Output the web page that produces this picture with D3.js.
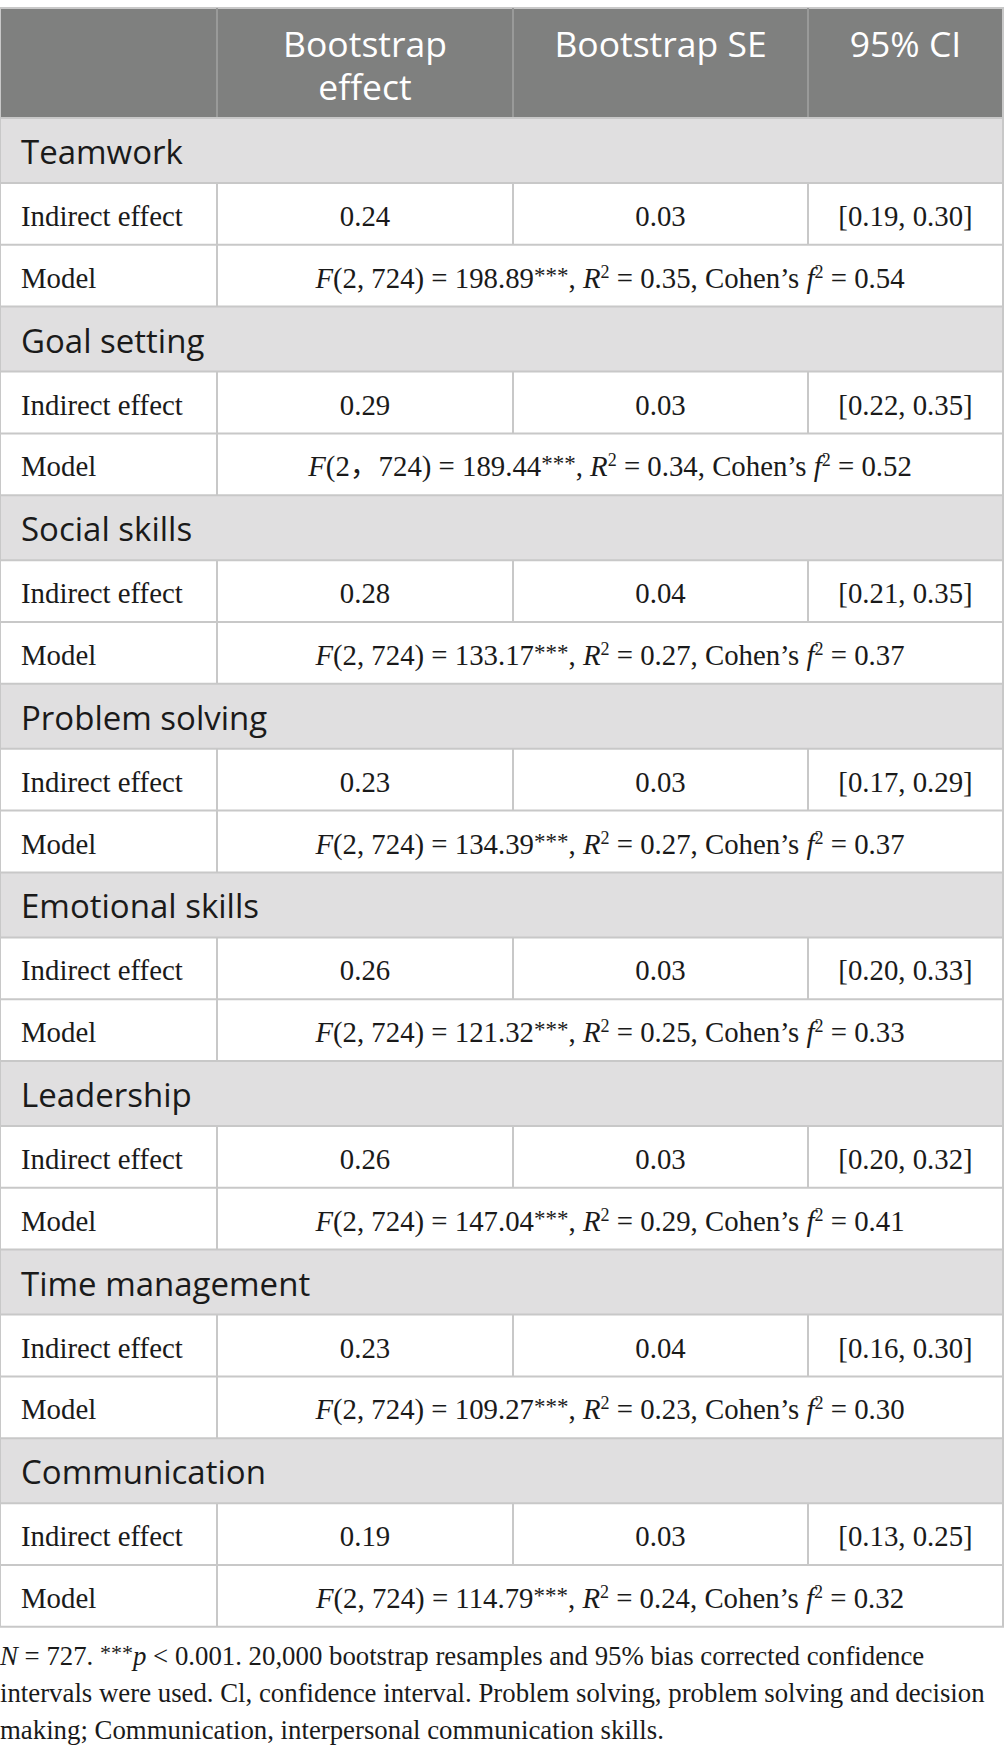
<!DOCTYPE html>
<html>
<head>
<meta charset="utf-8">
<script src="https://cdn.jsdelivr.net/npm/d3@7"></script>
<style>
  body { margin: 0; background: #fff; }
  svg { display: block; }
</style>
</head>
<body>
<svg id="chart" width="1005" height="1759"></svg>
<script>
'use strict';

// table content
const headers = [["Bootstrap", "effect"], ["Bootstrap SE"], ["95% CI"]];
const skills = ["Teamwork", "Goal setting", "Social skills", "Problem solving",
    "Emotional skills", "Leadership", "Time management", "Communication"];
const effects = ["0.24", "0.29", "0.28", "0.23", "0.26", "0.26", "0.23", "0.19"];
const ses = ["0.03", "0.03", "0.04", "0.03", "0.03", "0.03", "0.04", "0.03"];
const ciLow = ["0.19", "0.22", "0.21", "0.17", "0.20", "0.20", "0.16", "0.13"];
const ciHigh = ["0.30", "0.35", "0.35", "0.29", "0.33", "0.32", "0.30", "0.25"];
const dfText = ["2, 724", "2，724", "2, 724", "2, 724", "2, 724", "2, 724", "2, 724", "2, 724"];
const fValues = ["198.89", "189.44", "133.17", "134.39", "121.32", "147.04", "109.27", "114.79"];
const r2Values = ["0.35", "0.34", "0.27", "0.27", "0.25", "0.29", "0.23", "0.24"];
const f2Values = ["0.54", "0.52", "0.37", "0.37", "0.33", "0.41", "0.30", "0.32"];

const sans = "'Open Sans', 'Noto Sans', sans-serif";
const serif = "'Liberation Serif', 'Noto Sans CJK SC', serif";

var svg = d3.select("#chart");
var W = 1003;
var ink = "#1a1a1a";
var bodySize = 28.8;

// column edges
var x = d3.scaleOrdinal()
    .domain(["label", "effect", "se", "ci", "end"])
    .range([1, 217, 513, 808, W]);
var mid = function (a, b) { return (x(a) + x(b)) / 2; };

var headTop = 8, headBottom = 118;
var sectionH = 65, rowH = 61.8;
var groupH = sectionH + 2 * rowH;
var y = d3.scaleLinear().domain([0, skills.length]).range([headBottom, headBottom + skills.length * groupH]);

var lineColor = "#c8c8c8";

// header
svg.append("rect")
    .attr("x", x("label")).attr("y", headTop)
    .attr("width", W - x("label")).attr("height", headBottom - headTop)
    .attr("fill", "#7f807f");
svg.append("line")
    .attr("x1", 0).attr("x2", W + 1).attr("y1", headTop).attr("y2", headTop)
    .attr("stroke", lineColor).attr("stroke-width", 2);

["effect", "se", "ci"].forEach(function (c) {
    svg.append("line")
        .attr("x1", x(c)).attr("x2", x(c)).attr("y1", headTop).attr("y2", headBottom)
        .attr("stroke", "#999a99").attr("stroke-width", 2);
});

var headCenters = [mid("effect", "se"), mid("se", "ci"), mid("ci", "end")];
headers.forEach(function (lines, i) {
    lines.forEach(function (l, j) {
        svg.append("text")
            .attr("x", headCenters[i]).attr("y", 57 + j * 42.5)
            .attr("text-anchor", "middle")
            .attr("font-family", sans).attr("font-size", 35.5)
            .attr("fill", "#fff")
            .text(l);
    });
});

// groups
var groups = svg.append("g").selectAll("g")
    .data(skills)
    .enter().append("g")
    .attr("transform", function (d, i) { return "translate(0," + y(i) + ")"; });

groups.append("rect")
    .attr("x", x("label")).attr("y", 0)
    .attr("width", W - x("label")).attr("height", sectionH)
    .attr("fill", "#e0dfe0");

groups.append("text")
    .attr("x", 21).attr("y", 46)
    .attr("font-family", sans).attr("font-size", 33)
    .attr("fill", ink)
    .text(function (d) { return d; });

// indirect effect row
var r1 = sectionH;
function cell(sel, cx, anchor) {
    return sel.append("text")
        .attr("x", cx).attr("y", r1 + 43)
        .attr("text-anchor", anchor)
        .attr("font-family", serif).attr("font-size", bodySize).attr("fill", ink);
}
cell(groups, 21, "start").text("Indirect effect");
cell(groups, mid("effect", "se"), "middle").text(function (d, i) { return effects[i]; });
cell(groups, mid("se", "ci"), "middle").text(function (d, i) { return ses[i]; });
cell(groups, mid("ci", "end"), "middle")
    .text(function (d, i) { return "[" + ciLow[i] + ", " + ciHigh[i] + "]"; });

// model row
var r2 = sectionH + rowH;
groups.append("text")
    .attr("x", 21).attr("y", r2 + 43)
    .attr("font-family", serif).attr("font-size", bodySize).attr("fill", ink)
    .text("Model");

groups.each(function (d, i) {
    var t = d3.select(this).append("text")
        .attr("x", mid("effect", "end")).attr("y", r2 + 43)
        .attr("text-anchor", "middle")
        .attr("font-family", serif).attr("font-size", bodySize).attr("fill", ink);
    t.append("tspan").attr("font-style", "italic").text("F");
    t.append("tspan").text("(" + dfText[i] + ") = " + fValues[i]);
    t.append("tspan").attr("font-size", 23).attr("dy", -5).text("***");
    t.append("tspan").attr("dy", 5).text(", ");
    t.append("tspan").attr("font-style", "italic").text("R");
    t.append("tspan").attr("font-size", 18).attr("dy", -10).text("2");
    t.append("tspan").attr("dy", 10).text(" = " + r2Values[i] + ", Cohen\u2019s ");
    t.append("tspan").attr("font-style", "italic").text("f");
    t.append("tspan").attr("font-size", 18).attr("dy", -10).text("2");
    t.append("tspan").attr("dy", 10).text(" = " + f2Values[i]);
});

// grid lines
var tableBottom = y(skills.length);
var hLines = [];
skills.forEach(function (s, i) {
    hLines.push(y(i), y(i) + sectionH, y(i) + sectionH + rowH);
});
hLines.push(tableBottom);
svg.append("g").selectAll("line")
    .data(hLines)
    .enter().append("line")
    .attr("x1", 0).attr("x2", W + 1)
    .attr("y1", function (d) { return d; }).attr("y2", function (d) { return d; })
    .attr("stroke", lineColor).attr("stroke-width", 2);

// vertical lines: data rows only
var vg = svg.append("g");
skills.forEach(function (s, i) {
    var top = y(i) + sectionH;
    vg.append("line").attr("x1", x("effect")).attr("x2", x("effect"))
        .attr("y1", top).attr("y2", top + 2 * rowH)
        .attr("stroke", lineColor).attr("stroke-width", 2);
    ["se", "ci"].forEach(function (c) {
        vg.append("line").attr("x1", x(c)).attr("x2", x(c))
            .attr("y1", top).attr("y2", top + rowH)
            .attr("stroke", lineColor).attr("stroke-width", 2);
    });
});
[0, W].forEach(function (xx) {
    vg.append("line").attr("x1", xx).attr("x2", xx)
        .attr("y1", headTop).attr("y2", tableBottom)
        .attr("stroke", lineColor).attr("stroke-width", 2);
});

// footnote
var note = svg.append("g")
    .attr("font-family", serif).attr("font-size", 26.8).attr("fill", ink);
var n1 = note.append("text").attr("x", 0).attr("y", tableBottom + 38);
n1.append("tspan").attr("font-style", "italic").text("N");
n1.append("tspan").text(" = 727. ");
n1.append("tspan").attr("font-size", 22).attr("dy", -5).text("***");
n1.append("tspan").attr("font-style", "italic").attr("dy", 5).text("p");
n1.append("tspan").text(" < 0.001. 20,000 bootstrap resamples and 95% bias corrected confidence");
note.append("text").attr("x", 0).attr("y", tableBottom + 75)
    .text("intervals were used. Cl, confidence interval. Problem solving, problem solving and decision");
note.append("text").attr("x", 0).attr("y", tableBottom + 112)
    .text("making; Communication, interpersonal communication skills.");
</script>
</body>
</html>
